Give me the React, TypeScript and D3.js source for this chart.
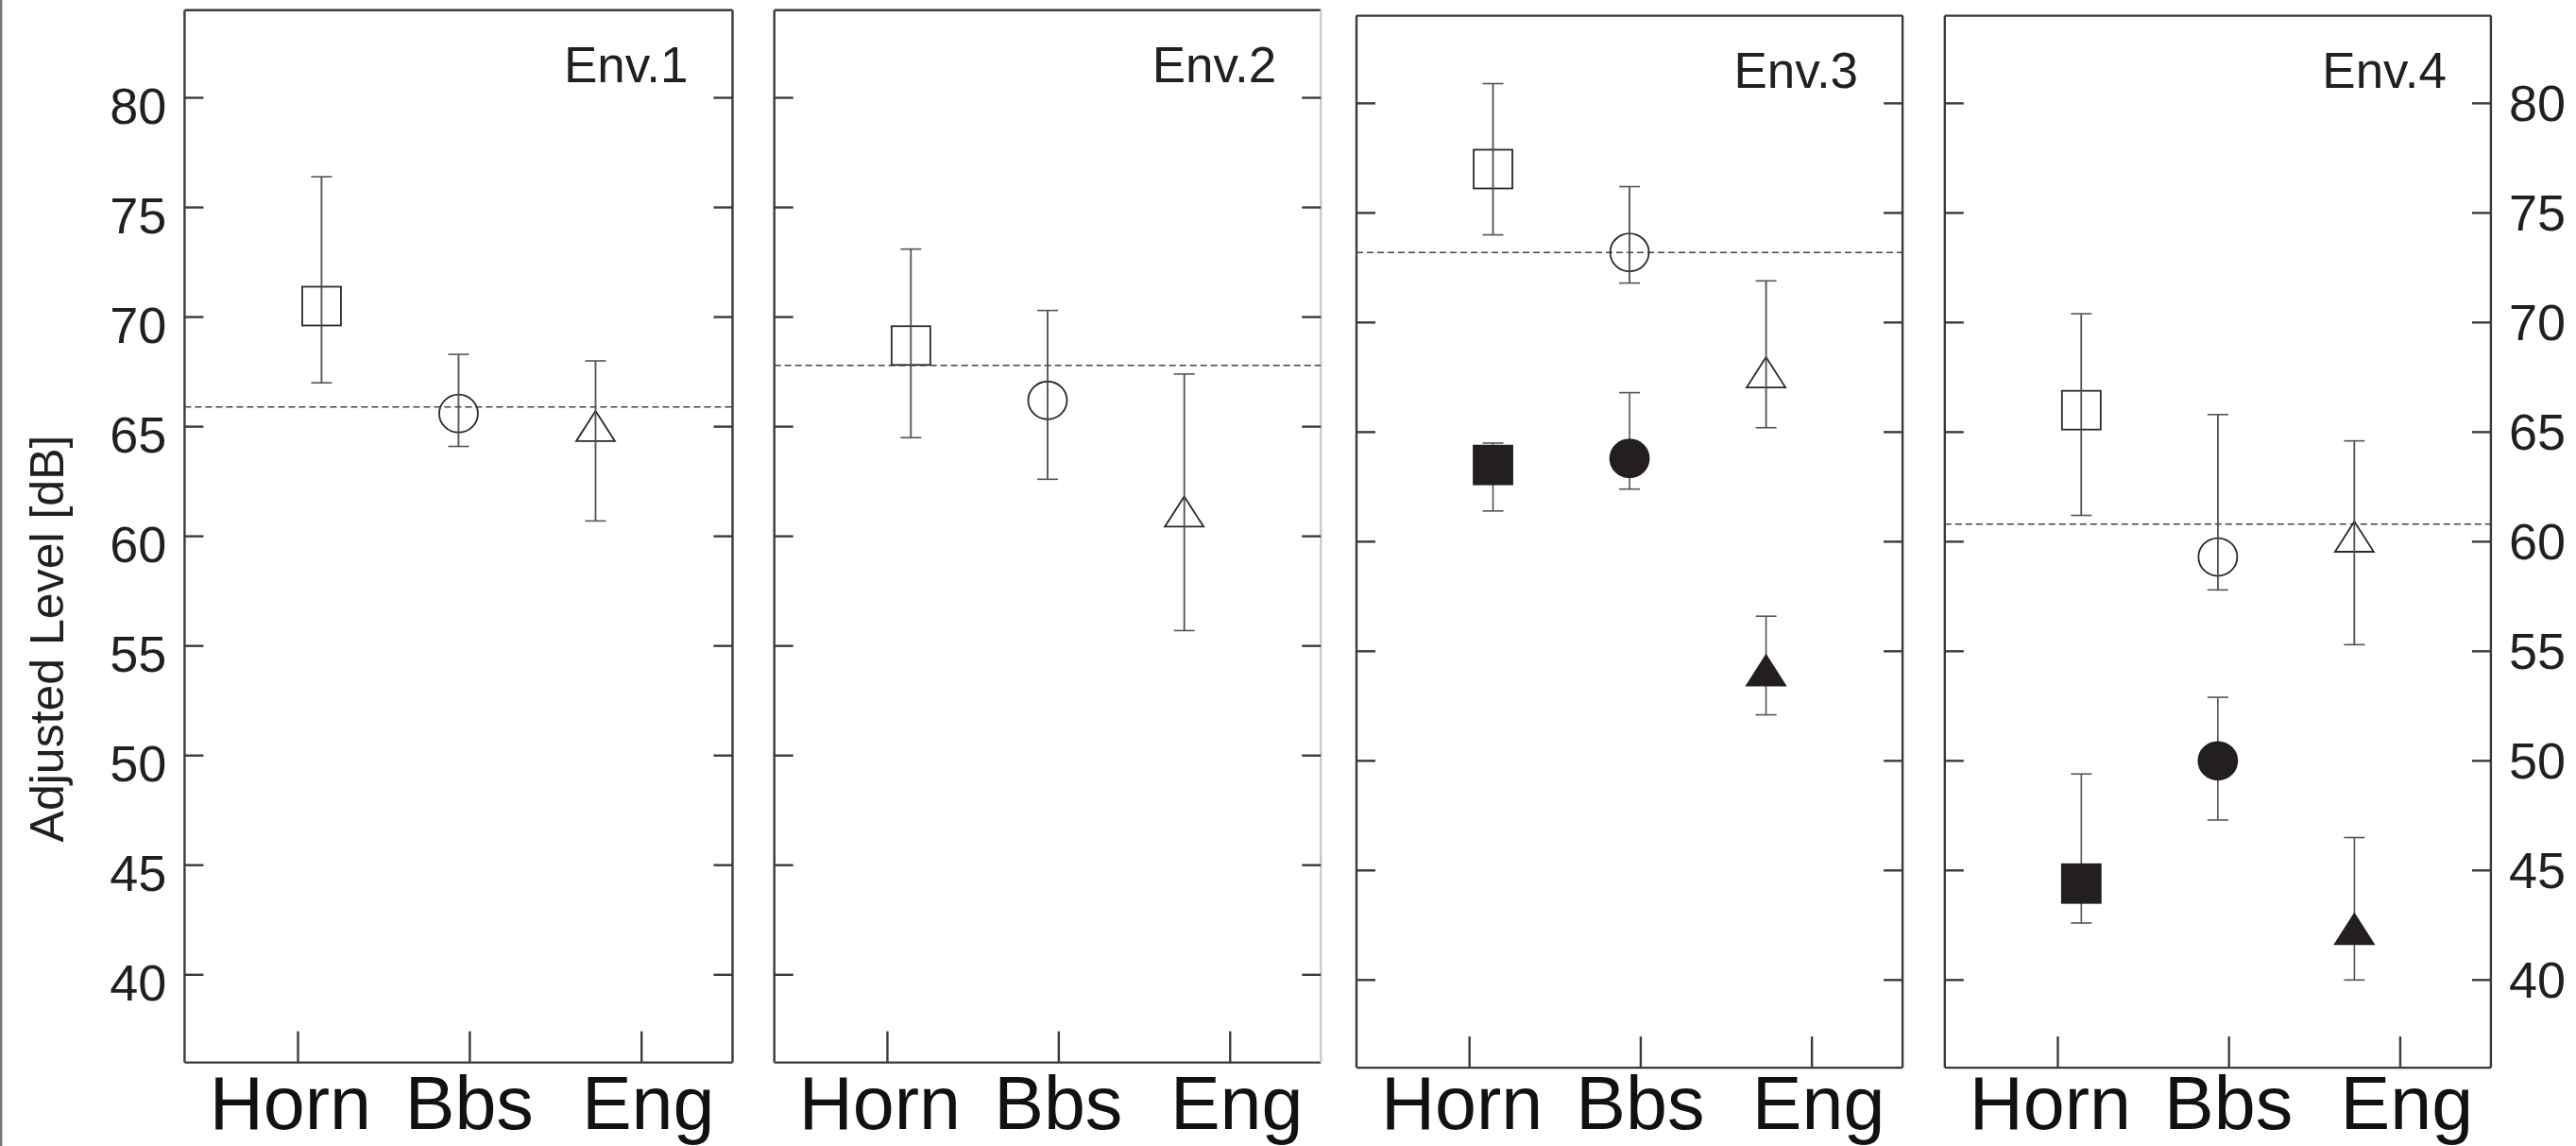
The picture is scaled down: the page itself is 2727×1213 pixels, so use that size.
import React from "react";
import * as d3 from "d3";

const categories = ["Horn", "Bbs", "Eng"];
const envLabels = ["Env.1", "Env.2", "Env.3", "Env.4"];
const yTicks = [40, 45, 50, 55, 60, 65, 70, 75, 80];
const yDomain = [36, 84];

// open markers (mean, upper, lower) per environment, per category
const openMean = [
  [70.5, 65.6, 64.8],
  [68.7, 66.2, 60.9],
  [77.0, 73.2, 67.5],
  [66.0, 59.3, 60.0],
];
const openHigh = [
  [76.4, 68.3, 68.0],
  [73.1, 70.3, 67.4],
  [80.9, 76.2, 71.9],
  [70.4, 65.8, 64.6],
];
const openLow = [
  [67.0, 64.1, 60.7],
  [64.5, 62.6, 55.7],
  [74.0, 71.8, 65.2],
  [61.2, 57.8, 55.3],
];
// filled markers exist only for Env.3 and Env.4
const filledMean = [null, null, [63.5, 63.8, 53.9], [44.4, 50.0, 42.1]];
const filledHigh = [null, null, [64.5, 66.8, 56.6], [49.4, 52.9, 46.5]];
const filledLow = [null, null, [61.4, 62.4, 52.1], [42.6, 47.3, 40.0]];
// dashed reference level per environment
const refLevel = [65.9, 67.8, 73.2, 60.8];

const W = 2727;
const H = 1213;
const panels = [
  { x0: 195.4, x1: 775.5, y0: 10.7, y1: 1124.6, rightColor: "#3a3a3a" },
  { x0: 819.7, x1: 1398.3, y0: 10.7, y1: 1124.6, rightColor: "#c9c9c9" },
  { x0: 1436.0, x1: 2014.1, y0: 16.6, y1: 1130.1, rightColor: "#3a3a3a" },
  { x0: 2058.8, x1: 2636.9, y0: 16.6, y1: 1130.1, rightColor: "#3a3a3a" },
];

const FONT = "'Liberation Sans', Arial, Helvetica, sans-serif";
const INK = "#231f20";
const FRAME = "#3a3a3a";
const MS = 41; // marker size
const TRI_H = 32;
const CAP = 22;

function Marker({ shape, cx, cy, filled }) {
  const fill = filled ? INK : "none";
  const stroke = filled ? INK : "#2a2a2a";
  const sw = 1.8;
  if (shape === 0) {
    return (
      <rect x={cx - MS / 2} y={cy - MS / 2} width={MS} height={MS} fill={fill} stroke={stroke} strokeWidth={sw} />
    );
  }
  if (shape === 1) {
    return <ellipse cx={cx} cy={cy} rx={MS / 2} ry={MS / 2 - 0.5} fill={fill} stroke={stroke} strokeWidth={sw} />;
  }
  const top = cy - (TRI_H * 2) / 3;
  const bot = cy + TRI_H / 3;
  const d = `M${cx},${top}L${cx + MS / 2},${bot}L${cx - MS / 2},${bot}Z`;
  return <path d={d} fill={fill} stroke={stroke} strokeWidth={sw} strokeLinejoin="miter" />;
}

function ErrorBar({ cx, yHi, yLo }) {
  const c = "#555";
  return (
    <g stroke={c} strokeWidth={1.6}>
      <line x1={cx} x2={cx} y1={yHi} y2={yLo} />
      <line x1={cx - CAP / 2} x2={cx + CAP / 2} y1={yHi} y2={yHi} />
      <line x1={cx - CAP / 2} x2={cx + CAP / 2} y1={yLo} y2={yLo} />
    </g>
  );
}

function Panel({ idx }) {
  const p = panels[idx];
  const w = p.x1 - p.x0;
  const y = d3.scaleLinear().domain(yDomain).range([p.y1, p.y0]);
  const xData = d3.scalePoint().domain(categories).range([p.x0, p.x1]).padding(1);
  const xTick = d3.scalePoint().domain(categories).range([p.x0 + 0.207 * w, p.x0 + 0.834 * w]);
  const xLabel = d3.scalePoint().domain(categories).range([p.x0 + 0.193 * w, p.x0 + 0.846 * w]);

  const series = [
    { mean: openMean[idx], hi: openHigh[idx], lo: openLow[idx], filled: false },
  ];
  if (filledMean[idx]) {
    series.push({ mean: filledMean[idx], hi: filledHigh[idx], lo: filledLow[idx], filled: true });
  }

  return (
    <g>
      {/* frame */}
      <g stroke={FRAME} strokeWidth={2.4} fill="none">
        <line x1={p.x0} x2={p.x0} y1={p.y0} y2={p.y1} />
        <line x1={p.x0} x2={p.x1} y1={p.y0} y2={p.y0} />
        <line x1={p.x0} x2={p.x1} y1={p.y1} y2={p.y1} />
      </g>
      <line x1={p.x1} x2={p.x1} y1={p.y0} y2={p.y1} stroke={p.rightColor} strokeWidth={2.4} />
      {/* y ticks both sides */}
      <g stroke={FRAME} strokeWidth={2.4}>
        {yTicks.map((t) => (
          <g key={t}>
            <line x1={p.x0} x2={p.x0 + 20} y1={y(t)} y2={y(t)} />
            <line x1={p.x1 - 20} x2={p.x1} y1={y(t)} y2={y(t)} />
          </g>
        ))}
        {categories.map((c) => (
          <line key={c} x1={xTick(c)} x2={xTick(c)} y1={p.y1} y2={p.y1 - 33} />
        ))}
      </g>
      {/* x tick labels */}
      {categories.map((c) => (
        <text
          key={c}
          x={xLabel(c)}
          y={1195}
          textAnchor="middle"
          fontFamily={FONT}
          fontSize={79}
          fill="#111"
        >
          {c}
        </text>
      ))}
      {/* y tick labels */}
      {idx === 0 &&
        yTicks.map((t) => (
          <text key={t} x={p.x0 - 19} y={y(t) + 27} textAnchor="end" fontFamily={FONT} fontSize={54} fill={INK}>
            {t}
          </text>
        ))}
      {idx === 3 &&
        yTicks.map((t) => (
          <text key={t} x={p.x1 + 19} y={y(t) + 19} textAnchor="start" fontFamily={FONT} fontSize={54} fill={INK}>
            {t}
          </text>
        ))}
      {/* env label */}
      <text x={p.x1 - 47} y={p.y0 + 76} textAnchor="end" fontFamily={FONT} fontSize={53} fill={INK}>
        {envLabels[idx]}
      </text>
      {/* reference dashed line */}
      <line
        x1={p.x0}
        x2={p.x1}
        y1={y(refLevel[idx])}
        y2={y(refLevel[idx])}
        stroke="#444"
        strokeWidth={1.5}
        strokeDasharray="7,4"
      />
      {/* error bars + markers */}
      {series.map((s, si) => (
        <g key={si}>
          {categories.map((c, ci) => (
            <g key={c}>
              <ErrorBar cx={xData(c)} yHi={y(s.hi[ci])} yLo={y(s.lo[ci])} />
            </g>
          ))}
          {categories.map((c, ci) => (
            <Marker key={c} shape={ci} cx={xData(c)} cy={y(s.mean[ci])} filled={s.filled} />
          ))}
          {!s.filled &&
            categories.map((c, ci) => (
              <line
                key={"e" + c}
                x1={xData(c)}
                x2={xData(c)}
                y1={y(s.hi[ci])}
                y2={y(s.lo[ci])}
                stroke="#555"
                strokeWidth={1.4}
              />
            ))}
        </g>
      ))}
    </g>
  );
}

export default function App() {
  return (
    <svg
      width={W}
      height={H}
      viewBox={`0 0 ${W} ${H}`}
      style={{ position: "absolute", left: 0, top: 0, background: "#fff" }}
    >
      <rect x={0} y={0} width={W} height={H} fill="#fff" />
      <line x1={1.2} x2={1.2} y1={0} y2={H} stroke="#777" strokeWidth={2.4} />
      <text
        transform={`translate(67,676) rotate(-90)`}
        textAnchor="middle"
        fontFamily={FONT}
        fontSize={50}
        fill={INK}
      >
        Adjusted Level [dB]
      </text>
      {panels.map((_, i) => (
        <Panel key={i} idx={i} />
      ))}
    </svg>
  );
}
